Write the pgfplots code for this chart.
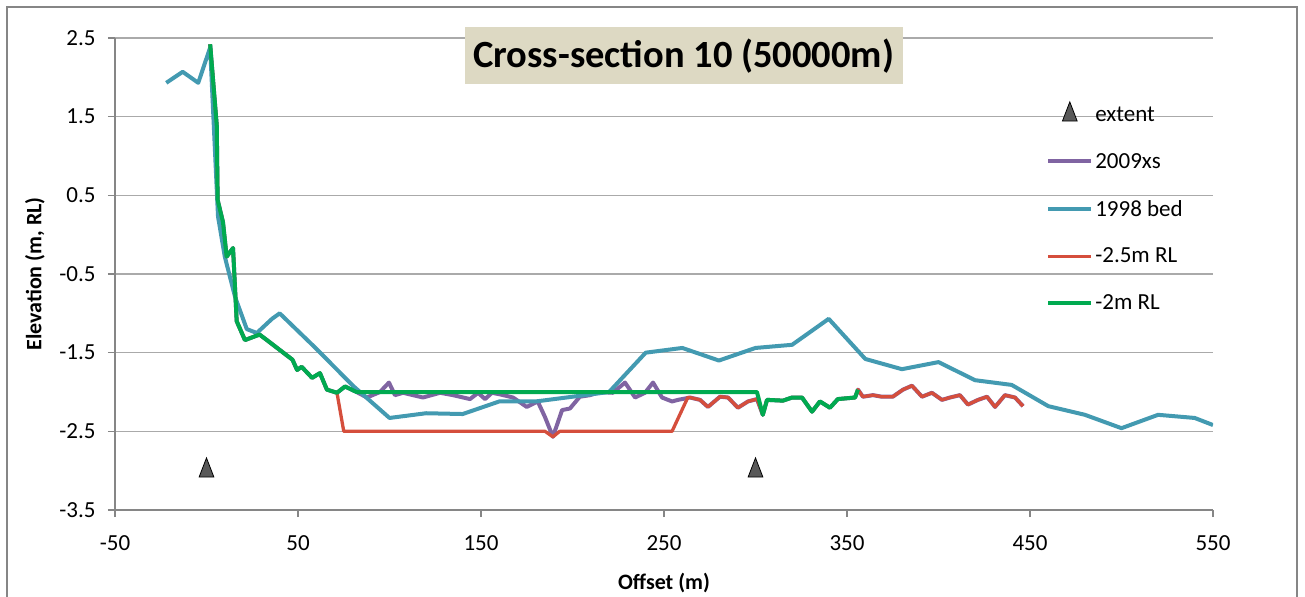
\documentclass[border=0pt]{standalone}
\usepackage{pgfplots}
\pgfplotsset{compat=1.18}
\usepackage{fontspec}
\setmainfont{Carlito}
\definecolor{cPurple}{RGB}{128,100,162}
\definecolor{cTeal}{RGB}{67,154,177}
\definecolor{cRed}{RGB}{213,78,60}
\definecolor{cGreen}{RGB}{0,170,80}
\definecolor{cGrid}{RGB}{170,170,170}
\definecolor{cAxis}{RGB}{134,134,134}
\definecolor{cTitle}{RGB}{221,217,195}
\definecolor{cTri}{RGB}{89,89,89}
\pgfplotsset{
  linelegend/.style={legend image code/.code={\draw[##1] (0bp,0bp) -- (43bp,0bp);}},
  marklegend/.style={legend image code/.code={\draw[##1] plot coordinates {(21.5bp,0bp)};}},
}
\begin{document}
\begin{tikzpicture}
\useasboundingbox (-115bp,-87bp) rectangle (1190bp,510bp);
\draw[line width=2bp, cAxis] (-108bp,-95bp) -- (-108bp,503bp) -- (1182bp,503bp) -- (1182bp,-95bp);
\begin{axis}[
  at={(0,0)}, anchor=south west,
  scale only axis, width=1098bp, height=472bp,
  xmin=-50, xmax=550, ymin=-3.5, ymax=2.5,
  xtick={-50,50,150,250,350,450,550},
  xticklabels={-50,50,150,250,350,450,550},
  ytick={-3.5,-2.5,-1.5,-0.5,0.5,1.5,2.5},
  yticklabels={-3.5,-2.5,-1.5,-0.5,0.5,1.5,2.5},
  axis x line*=bottom, axis y line*=left,
  axis line style={cAxis, line width=1.5bp, -},
  tick style={cAxis, line width=1.5bp},
  tick align=outside, major tick length=7bp,
  ymajorgrids, grid style={cGrid, line width=1.5bp},
  ticklabel style={font=\fontsize{23bp}{27bp}\selectfont},
  xticklabel style={yshift=-15bp},
  yticklabel style={xshift=-9bp},
  xlabel={Offset (m)}, ylabel={Elevation (m, RL)},
  label style={font=\bfseries\fontsize{22bp}{26bp}\selectfont},
  xlabel style={at={(axis description cs:0.5,-0.155)}, anchor=center},
  ylabel style={at={(axis description cs:-0.0729,0.5)}, anchor=center},
  clip mode=individual,
  linelegend,
  legend style={at={(axis description cs:0.848,0.865)}, anchor=north west,
    draw=none, fill=none, font=\fontsize{23bp}{27bp}\selectfont,
    row sep=26.5bp, inner sep=0pt},
  legend cell align=left,
]
\node[fill=cTitle, minimum width=438bp, minimum height=57bp, inner sep=0pt,
  font=\bfseries\fontsize{38.5bp}{42bp}\selectfont] at (axis description cs:0.518,0.962) {Cross-section 10 (50000m)};

\addplot[only marks, mark=triangle*, mark size=8.5bp, mark options={fill=cTri, draw=black, line width=0.8bp, yscale=1.5}, marklegend]
coordinates {(0,-3) (300,-3)};
\addlegendentry{extent}

\addplot[cPurple, line width=4bp, line join=round] coordinates {
(2,2.42) (5.6,1.39) (6.1,0.44) (9,0.16) (11,-0.28) (14.5,-0.17) (16.5,-1.1) (21,-1.34) (29,-1.27) (33,-1.34) (47,-1.59) (49.5,-1.72) (52,-1.68) (57.7,-1.82) (62,-1.76) (65.8,-1.97) (71.3,-2.01) (75.7,-1.93) (82,-2.0) (87.7,-2.07) (94.8,-2.0) (99.7,-1.88) (103,-2.04) (107.4,-2.01) (118.3,-2.07) (127.6,-2.01) (134.7,-2.04) (144,-2.09) (148.4,-2.01) (152.2,-2.09) (156,-2.01) (160.4,-2.03) (167.5,-2.07) (175,-2.19) (181,-2.12) (185,-2.32) (189.3,-2.57) (194.3,-2.23) (198.6,-2.21) (204,-2.06) (209.6,-2.04) (215,-2.0) (222,-2.01) (228.7,-1.88) (234.2,-2.07) (239.6,-2.01) (244,-1.88) (248.9,-2.07) (254.4,-2.12) (257.7,-2.1) (264.2,-2.07) (269.7,-2.1) (274,-2.19) (280.6,-2.06) (285,-2.07) (290.4,-2.2) (295.9,-2.12) (300.8,-2.09) (304,-2.29) (306.3,-2.1) (315,-2.11) (320,-2.07) (325.4,-2.07) (330.9,-2.25) (335.2,-2.12) (340.7,-2.2) (345,-2.09) (354.4,-2.07) (356,-1.97) (358.7,-2.06) (364.2,-2.04) (369,-2.06) (375,-2.06) (380.6,-1.97) (385.5,-1.92) (391,-2.06) (396.4,-2.01) (401.9,-2.1) (406.3,-2.07) (411.7,-2.04) (416.1,-2.16) (421.6,-2.1) (426.5,-2.06) (430.9,-2.19) (436.3,-2.04) (441.8,-2.07) (446.2,-2.18)
};
\addlegendentry{2009xs}

\addplot[cTeal, line width=4bp, line join=round] coordinates {
(-22,1.93) (-13,2.07) (-4.5,1.93) (2,2.38) (6.3,0.23) (10,-0.28) (15.6,-0.79) (22,-1.2) (27.5,-1.25) (35.8,-1.07) (40,-1.0) (60,-1.45) (80,-1.92) (100,-2.33) (120,-2.27) (140,-2.28) (160,-2.12) (180,-2.12) (200,-2.06) (220,-2.0) (240,-1.5) (260,-1.44) (280,-1.6) (300,-1.44) (320,-1.4) (340,-1.07) (360,-1.58) (380,-1.71) (400,-1.62) (420,-1.85) (440,-1.91) (460,-2.18) (480,-2.29) (500,-2.46) (520,-2.29) (540,-2.33) (550,-2.42)
};
\addlegendentry{1998 bed}

\addplot[cRed, line width=3.3bp, line join=round] coordinates {
(2,2.42) (5.6,1.39) (6.1,0.44) (9,0.16) (11,-0.28) (14.5,-0.17) (16.5,-1.1) (21,-1.34) (29,-1.27) (33,-1.34) (47,-1.59) (49.5,-1.72) (52,-1.68) (57.7,-1.82) (62,-1.76) (65.8,-1.97) (71.3,-2.01) (75,-2.5) (185,-2.5) (189.3,-2.57) (193,-2.5) (254.4,-2.5) (263,-2.07) (264.2,-2.07) (269.7,-2.1) (274,-2.19) (280.6,-2.06) (285,-2.07) (290.4,-2.2) (295.9,-2.12) (300.8,-2.09) (304,-2.29) (306.3,-2.1) (315,-2.11) (320,-2.07) (325.4,-2.07) (330.9,-2.25) (335.2,-2.12) (340.7,-2.2) (345,-2.09) (354.4,-2.07) (356,-1.97) (358.7,-2.06) (364.2,-2.04) (369,-2.06) (375,-2.06) (380.6,-1.97) (385.5,-1.92) (391,-2.06) (396.4,-2.01) (401.9,-2.1) (406.3,-2.07) (411.7,-2.04) (416.1,-2.16) (421.6,-2.1) (426.5,-2.06) (430.9,-2.19) (436.3,-2.04) (441.8,-2.07) (446.2,-2.18)
};
\addlegendentry{-2.5m RL}

\addplot[cGreen, line width=4bp, line join=round] coordinates {
(2,2.42) (5.6,1.39) (6.1,0.44) (9,0.16) (11,-0.28) (14.5,-0.17) (16.5,-1.1) (21,-1.34) (29,-1.27) (33,-1.34) (47,-1.59) (49.5,-1.72) (52,-1.68) (57.7,-1.82) (62,-1.76) (65.8,-1.97) (71.3,-2.01) (75.7,-1.93) (82,-2.0) (300.8,-2.0) (304,-2.29) (306.3,-2.1) (315,-2.11) (320,-2.07) (325.4,-2.07) (330.9,-2.25) (335.2,-2.12) (340.7,-2.2) (345,-2.09) (354.4,-2.07) (356,-1.97)
};
\addlegendentry{-2m RL}
\end{axis}
\end{tikzpicture}
\end{document}
